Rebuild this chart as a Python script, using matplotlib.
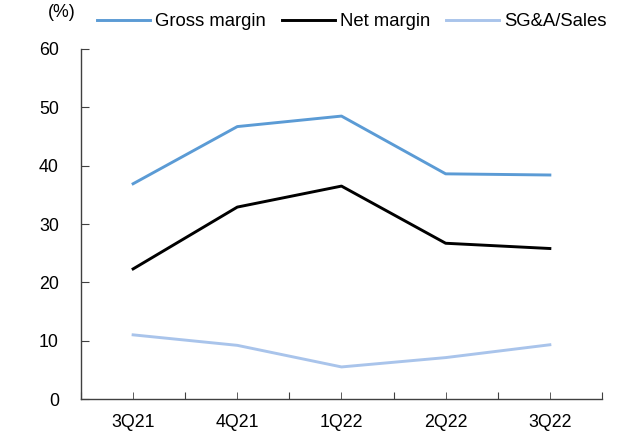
import matplotlib.pyplot as plt

plt.rcParams['font.family'] = ['Liberation Sans', 'DejaVu Sans']

quarters = ['3Q21', '4Q21', '1Q22', '2Q22', '3Q22']
gross_margin = [36.9, 46.7, 48.5, 38.6, 38.4]
net_margin = [22.3, 32.9, 36.5, 26.7, 25.8]
sga_sales = [11.0, 9.2, 5.5, 7.1, 9.3]

fig = plt.figure(figsize=(6.29, 4.41), dpi=100)
ax = fig.add_axes([0.1288, 0.0952, 0.8282, 0.7937])

x = range(len(quarters))
l1, = ax.plot(x, gross_margin, color='#5B9BD5', lw=2.1, label='Gross margin')
l2, = ax.plot(x, net_margin, color='black', lw=2.1, label='Net margin')
l3, = ax.plot(x, sga_sales, color='#A9C4EB', lw=2.1, label='SG&A/Sales')

ax.set_xlim(-0.5, len(quarters) - 0.5)
ax.set_ylim(0, 60)
ax.set_yticks(range(0, 61, 10))

# category labels centered, tick marks at boundaries and centers
ax.set_xticks([i - 0.5 for i in range(len(quarters) + 1)])
ax.set_xticklabels([])
ax.set_xticks(list(x), minor=True)
ax.set_xticklabels(quarters, minor=True)

ax.tick_params(axis='x', which='both', direction='in', length=5, color='#404040',
               labelsize=12.8, pad=11)
ax.tick_params(axis='y', direction='in', length=5.5, color='#404040', labelsize=12.8, pad=16)

for s in ['top', 'right']:
    ax.spines[s].set_visible(False)
for s in ['left', 'bottom']:
    ax.spines[s].set_color('#404040')
    ax.spines[s].set_linewidth(1.0)

fig.text(0.0763, 0.972, '(%)', fontsize=12.8, ha='left', va='center')

# legend entries placed individually (uneven spacing like the original)
for line, x0 in [(l1, 0.154), (l2, 0.448), (l3, 0.709)]:
    fig.legend(handles=[line], loc='center left', bbox_to_anchor=(x0, 0.951),
               frameon=False, fontsize=13.3, handlelength=2.87, handletextpad=0.27,
               borderaxespad=0, borderpad=0)

plt.savefig('out.png', dpi=100)
